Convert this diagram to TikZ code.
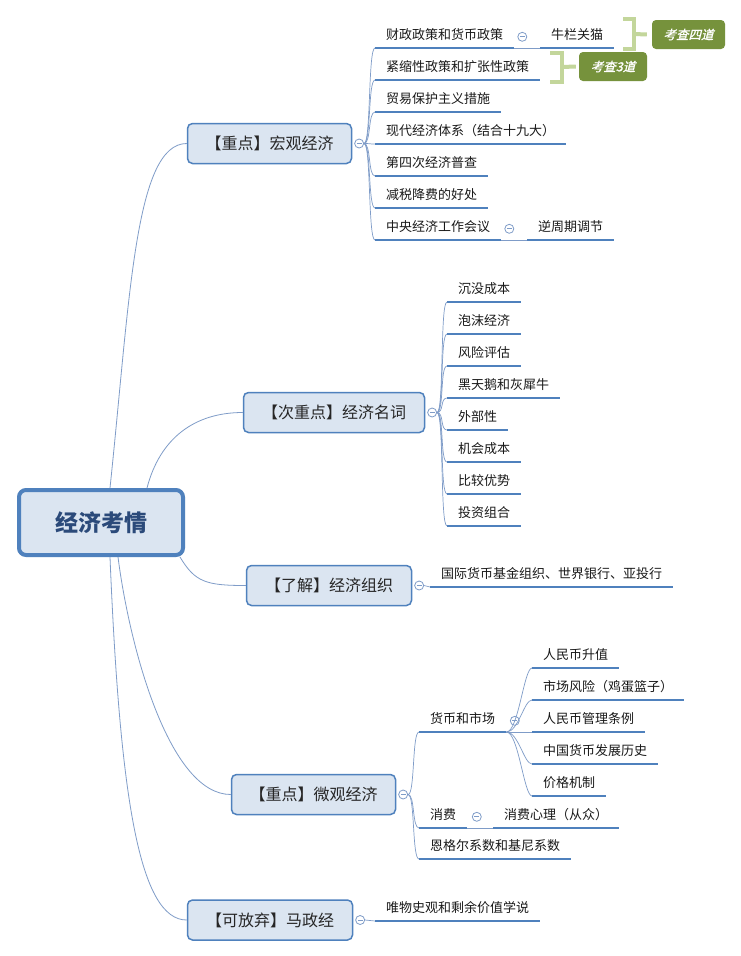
\documentclass[tikz,border=0pt]{standalone}
\usepackage{fontspec}
\setmainfont{Noto Sans CJK SC}
\newfontfamily\tagfont[FakeSlant=0.25,FakeBold=1.2]{Noto Sans CJK SC}
\usetikzlibrary{positioning,calc}
\definecolor{mmBlue}{HTML}{4F81BD}
\definecolor{mmFill}{HTML}{DBE5F1}
\definecolor{mmLine}{HTML}{7F9CC8}
\definecolor{mmText}{HTML}{2B4A7A}
\definecolor{tagGreen}{HTML}{76923C}
\definecolor{tagBrk}{HTML}{C3D69B}

\begin{document}
\begin{tikzpicture}[x=1pt,y=-1pt,
  root/.style={draw=mmBlue,line width=4pt,fill=mmFill,rounded corners=7pt,minimum width=164pt,
    minimum height=65pt,text=mmText,font=\fontsize{23}{26}\selectfont\bfseries},
  topic/.style={draw=mmBlue,line width=1.5pt,fill=mmFill,rounded corners=5pt,minimum height=40pt,
    text=black!85,font=\fontsize{16}{19}\selectfont},
  leaf/.style={anchor=south west,inner xsep=11pt,inner ysep=4pt,text height=10pt,text depth=4pt,
    font=\fontsize{13}{15}\selectfont,text=black!90},
  uline/.style={draw=mmBlue,line width=2.5pt},
  fold/.style={circle,draw=mmLine,fill=white,line width=0.8pt,minimum size=9pt,inner sep=0pt,
    path picture={\draw[mmLine,line width=0.7pt] ([xshift=-2.4pt]path picture bounding box.center)
      --([xshift=2.4pt]path picture bounding box.center);}},
  trunk/.style={draw=mmLine,line width=0.8pt},
  twig/.style={draw=mmLine,line width=0.7pt},
  tag/.style={fill=tagGreen,rounded corners=4pt,minimum height=29pt,inner sep=0pt,text=white,
    font=\fontsize{12.5}{14}\tagfont},
  brk/.style={draw=tagBrk,line width=4pt}]
  \fill[white] (0,0) rectangle (741,956);
  \useasboundingbox (0,0) rectangle (741,956);

  % centre and main topics
  \node[root] (root) at (101,522.5) {经济考情};
  \node[topic,minimum width=164pt] (b1) at (269.5,143.5) {【重点】宏观经济};
  \node[topic,minimum width=181pt] (b2) at (334,412.5) {【次重点】经济名词};
  \node[topic,minimum width=165pt] (b3) at (329,585.5) {【了解】经济组织};
  \node[topic,minimum width=164pt] (b4) at (313.5,794.5) {【重点】微观经济};
  \node[topic,minimum width=165pt] (b5) at (270,920) {【可放弃】马政经};
  \foreach \n in {1,...,5}
    \node[fold,right=2pt of b\n] (f\n) {};

  % macro economy
  \node[leaf] (m1) at (375,48) {财政政策和货币政策};
  \node[leaf] (m2) at (375,80) {紧缩性政策和扩张性政策};
  \node[leaf] (m3) at (375,112) {贸易保护主义措施};
  \node[leaf] (m4) at (375,144) {现代经济体系（结合十九大）};
  \node[leaf] (m5) at (375,176) {第四次经济普查};
  \node[leaf] (m6) at (375,208) {减税降费的好处};
  \node[leaf] (m7) at (375,240) {中央经济工作会议};
  \node[leaf] (m1a) at (540,48) {牛栏关猫};
  \node[leaf] (m7a) at (527,240) {逆周期调节};
  \node[fold,right=3pt of m1] (g1) {};
  \node[fold,right=3pt of m7] (g7) {};
  \node[tag,minimum width=73pt] (t1) at (688.5,34.5) {考查四道};
  \node[tag,minimum width=68pt] (t2) at (613,66.5) {考查3道};

  % terms
  \node[leaf] (n1) at (447,302) {沉没成本};
  \node[leaf] (n2) at (447,334) {泡沫经济};
  \node[leaf] (n3) at (447,366) {风险评估};
  \node[leaf] (n4) at (447,398) {黑天鹅和灰犀牛};
  \node[leaf] (n5) at (447,430) {外部性};
  \node[leaf] (n6) at (447,462) {机会成本};
  \node[leaf] (n7) at (447,494) {比较优势};
  \node[leaf] (n8) at (447,526) {投资组合};

  % organisations
  \node[leaf] (o1) at (430,587) {国际货币基金组织、世界银行、亚投行};

  % micro economy
  \node[leaf] (w1) at (419,732) {货币和市场};
  \node[leaf] (w2) at (419,828) {消费};
  \node[leaf] (w3) at (419,859) {恩格尔系数和基尼系数};
  \node[leaf] (w1a) at (532,668) {人民币升值};
  \node[leaf] (w1b) at (532,700) {市场风险（鸡蛋篮子）};
  \node[leaf] (w1c) at (532,732) {人民币管理条例};
  \node[leaf] (w1d) at (532,764) {中国货币发展历史};
  \node[leaf] (w1e) at (532,796) {价格机制};
  \node[leaf] (w2a) at (493,828) {消费心理（从众）};
  \node[fold,right=3.5pt of w1] (h1) {};
  \node[fold,right=4.5pt of w2] (h2) {};

  % political economy
  \node[leaf] (p1) at (375,921) {唯物史观和剩余价值学说};

  % underlines
  \foreach \n in {m1,m2,m3,m4,m5,m6,m7,m1a,m7a,n1,n2,n3,n4,n5,n6,n7,n8,o1,
      w1,w2,w3,w1a,w1b,w1c,w1d,w1e,w2a,p1}
    \draw[uline] (\n.south west) -- (\n.south east);

  % branches from the centre
  \draw[trunk] ([xshift=9pt]root.north) .. controls +(20,-190) and +(-52,0) .. (b1.west);
  \draw[trunk] ([xshift=46pt]root.north) .. controls +(13,-50) and +(-48,0) .. (b2.west);
  \draw[trunk] ([xshift=-5pt]root.south east) .. controls +(15,25) and +(-40,0) .. (b3.west);
  \draw[trunk] ([xshift=17pt]root.south) .. controls +(12,93) and +(-61,0) .. (b4.west);
  \draw[trunk] ([xshift=9pt]root.south) .. controls +(10,243) and +(-47,0) .. (b5.west);

  % sub branches
  \foreach \n in {m1,m2,m3,m4,m5,m6,m7}
    \draw[twig] (f1.east) .. controls +(7,0) and +(-7,0) .. (\n.south west);
  \foreach \n in {n1,n2,n3,n4,n5,n6,n7,n8}
    \draw[twig] (f2.east) .. controls +(7,0) and +(-7,0) .. (\n.south west);
  \draw[twig] (f3.east) -- (o1.south west);
  \foreach \n in {w1,w2,w3}
    \draw[twig] (f4.east) .. controls +(7,0) and +(-7,0) .. (\n.south west);
  \foreach \n in {w1a,w1b,w1c,w1d,w1e}
    \draw[twig] (w1.south east) .. controls +(12,0) and +(-8,0) .. (\n.south west);
  \draw[twig] (f5.east) -- (p1.south west);
  \draw[twig] (m1.south east) -- (m1a.south west);
  \draw[twig] (m7.south east) -- (m7a.south west);
  \draw[twig] (w2.south east) -- (w2a.south west);

  % summary brackets
  \draw[brk] (623,19) -| (634,49) -- (623,49);
  \draw[brk] (634,34) -- ([xshift=-5pt]t1.west);
  \draw[brk] (550,53) -| (562,82) -- (550,82);
  \draw[brk] (562,67) -- ([xshift=-3pt]t2.west);
\end{tikzpicture}
\end{document}
